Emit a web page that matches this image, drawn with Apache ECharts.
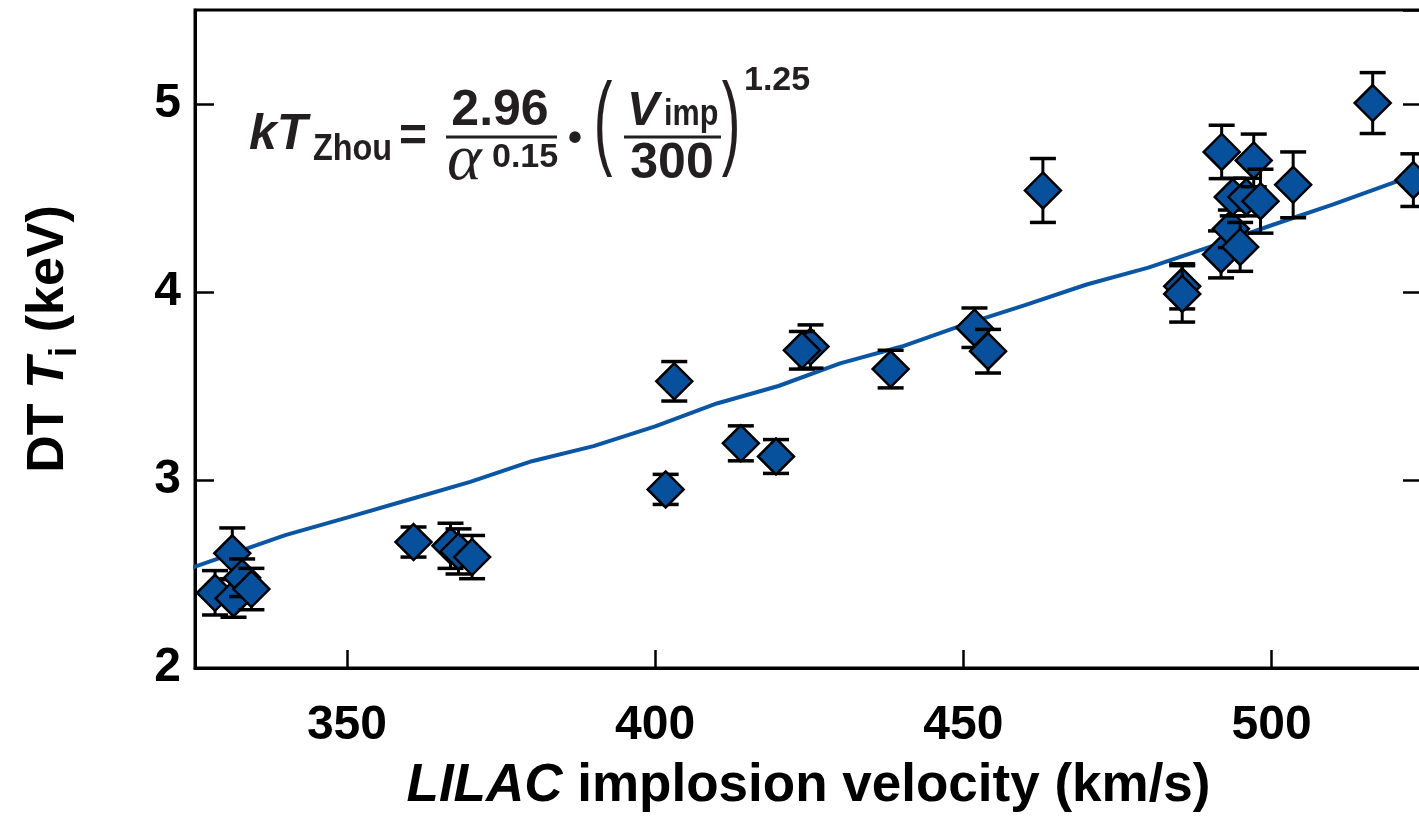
<!DOCTYPE html>
<html>
<head>
<meta charset="utf-8">
<script src="https://cdn.jsdelivr.net/npm/echarts@6/dist/echarts.min.js"></script>
<style>html,body{margin:0;padding:0;background:#fff}#c{width:1419px;height:827px}</style>
</head>
<body>
<div id="c"></div>
<script>
// Measured points: implosion velocity (km/s), DT Ti (keV), error half-width (keV)
const pointV   = [328.6, 331.4, 331.6, 333.0, 334.5, 360.8, 366.8, 368.1, 370.3, 401.7, 403.1, 413.9, 419.6, 425.2, 423.8, 438.2, 451.8, 454.0, 462.9, 485.5, 485.5, 491.8, 493.4, 494.9, 491.9, 493.7, 495.9, 497.1, 498.2, 503.5, 516.4, 523.0];
const pointT   = [2.40, 2.61, 2.37, 2.48, 2.42, 2.67, 2.65, 2.62, 2.59, 2.95, 3.525, 3.195, 3.125, 3.71, 3.69, 3.59, 3.81, 3.685, 4.54, 4.03, 3.99, 4.20, 4.336, 4.24, 4.745, 4.505, 4.505, 4.70, 4.483, 4.57, 5.005, 4.595];
const pointErr = [0.118, 0.135, 0.10, 0.10, 0.11, 0.08, 0.12, 0.12, 0.115, 0.08, 0.105, 0.093, 0.09, 0.115, 0.10, 0.10, 0.105, 0.116, 0.17, 0.12, 0.15, 0.125, 0.10, 0.13, 0.142, 0.10, 0.10, 0.14, 0.17, 0.175, 0.162, 0.14];

// Model curve kT_Zhou
const lineV = [325, 340, 350, 360, 370, 380, 390, 400, 410, 420, 430, 440, 450, 460, 470, 480, 490, 500, 510, 520, 525];
const lineT = [2.535, 2.707, 2.80, 2.895, 2.99, 3.10, 3.18, 3.285, 3.407, 3.50, 3.62, 3.71, 3.825, 3.93, 4.04, 4.13, 4.24, 4.355, 4.466, 4.585, 4.64];

// Axis ticks
const xTicks = [350, 400, 450, 500];
const yMin = 2, yMax = 5.5, yStep = 1;

const chart = echarts.init(document.getElementById('c'));
const FONT = '"Liberation Sans", Arial, Helvetica, sans-serif';
const ink = '#000';
const eqInk = '#231f20';

const pointData = pointV.map((v, i) => [v, pointT[i], pointErr[i]]);
const lineData = lineV.map((v, i) => [v, lineT[i]]);

function renderPoint(params, api) {
  const x = api.value(0), y = api.value(1), e = api.value(2);
  const c = api.coord([x, y]);
  const t = api.coord([x, y + e]);
  const b = api.coord([x, y - e]);
  const cw = 13, s = 18;
  return {
    type: 'group',
    children: [
      { type: 'line', shape: { x1: c[0], y1: t[1], x2: c[0], y2: b[1] }, style: { stroke: ink, lineWidth: 3 } },
      { type: 'line', shape: { x1: c[0] - cw, y1: t[1], x2: c[0] + cw, y2: t[1] }, style: { stroke: ink, lineWidth: 3.5 } },
      { type: 'line', shape: { x1: c[0] - cw, y1: b[1], x2: c[0] + cw, y2: b[1] }, style: { stroke: ink, lineWidth: 3.5 } },
      { type: 'polygon', shape: { points: [[c[0], c[1] - s], [c[0] + s, c[1]], [c[0], c[1] + s], [c[0] - s, c[1]]] },
        style: { fill: '#07509c', stroke: ink, lineWidth: 2.5 } }
    ]
  };
}

// equation text pieces (vertically centred on y)
const txt = (text, x, y, font, align, extra) => Object.assign({
  type: 'text', x: x, y: y, z: 100,
  style: { text: text, font: font, fill: eqInk, align: align || 'left', verticalAlign: 'middle' }
}, extra || {});

chart.setOption({
  animation: false,
  backgroundColor: '#fff',
  grid: { left: 195, right: -3, top: 10, bottom: 159, show: true, borderColor: ink, borderWidth: 3,
          backgroundColor: 'transparent', outerBoundsMode: 'none', containLabel: false },
  xAxis: {
    type: 'value', min: 325.35, max: 524.4,
    splitLine: { show: false },
    axisLine: { show: true, lineStyle: { color: ink, width: 3 } },
    axisTick: { show: true, inside: true, length: 18, customValues: xTicks, lineStyle: { color: ink, width: 2.5 } },
    axisLabel: { customValues: xTicks, color: ink, fontFamily: FONT, fontWeight: 'bold', fontSize: 48, margin: 34 },
    name: '{it|LILAC}{n| implosion velocity (km/s)}',
    nameLocation: 'middle', nameGap: 92,
    nameTextStyle: {
      rich: {
        it: { fontFamily: FONT, fontWeight: 'bold', fontStyle: 'italic', fontSize: 53, color: ink },
        n: { fontFamily: FONT, fontWeight: 'bold', fontSize: 53, color: ink }
      }
    }
  },
  yAxis: [{
    type: 'value', min: yMin, max: yMax, interval: yStep,
    splitLine: { show: false },
    axisLine: { show: true, lineStyle: { color: ink, width: 3 } },
    axisTick: { show: true, inside: true, length: 19, lineStyle: { color: ink, width: 2.5 } },
    axisLabel: { color: ink, fontFamily: FONT, fontWeight: 'bold', fontSize: 48, margin: 14, showMaxLabel: false },
    name: '{n|DT }{it|T}{sub|i}{n| (keV)}',
    nameLocation: 'middle', nameGap: 110,
    nameTextStyle: {
      rich: {
        n: { fontFamily: FONT, fontWeight: 'bold', fontSize: 52, color: ink, lineHeight: 62, verticalAlign: 'bottom', padding: [0, 0, 10, 0] },
        it: { fontFamily: FONT, fontWeight: 'bold', fontStyle: 'italic', fontSize: 52, color: ink, lineHeight: 62, verticalAlign: 'bottom', padding: [0, 0, 10, 0] },
        sub: { fontFamily: FONT, fontWeight: 'bold', fontSize: 38, color: ink, lineHeight: 62, verticalAlign: 'bottom' }
      }
    }
  }, {
    type: 'value', min: yMin, max: yMax, interval: yStep, position: 'right',
    splitLine: { show: false },
    axisLine: { show: true, lineStyle: { color: ink, width: 3 } },
    axisTick: { show: true, inside: true, length: 19, lineStyle: { color: ink, width: 2.5 } },
    axisLabel: { show: false }
  }],
  series: [{
    type: 'line', data: lineData, showSymbol: false, symbol: 'none', clip: true, z: 2,
    lineStyle: { color: '#0b56a4', width: 4 }
  }, {
    type: 'custom', data: pointData, renderItem: renderPoint, z: 5, clip: false,
    encode: { x: 0, y: 1 }
  }],
  graphic: [
    txt('kT', 249, 135, 'italic bold 50px ' + FONT),
    txt('Zhou', 313, 150, 'bold 36px ' + FONT, 'left', { scaleX: 0.9 }),
    txt('=', 413, 138, 'bold 48px ' + FONT, 'center'),
    txt('2.96', 500, 111, 'bold 50px ' + FONT, 'center'),
    { type: 'line', z: 100, shape: { x1: 446, y1: 137, x2: 557, y2: 137 }, style: { stroke: eqInk, lineWidth: 3 } },
    txt('\u03B1', 447, 162, 'italic 66px "Liberation Serif", "Times New Roman", serif'),
    txt('0.15', 492, 158, 'bold 34px ' + FONT),
    txt('\u2022', 575, 140, 'bold 40px ' + FONT, 'center'),
    txt('(', 603, 126, '56px ' + FONT, 'center', { scaleY: 1.85 }),
    txt('V', 627, 112, 'italic bold 48px ' + FONT),
    txt('imp', 664, 115, 'bold 36px ' + FONT, 'left', { scaleX: 0.85 }),
    { type: 'line', z: 100, shape: { x1: 624, y1: 137, x2: 721, y2: 137 }, style: { stroke: eqInk, lineWidth: 3 } },
    txt('300', 672, 164, 'bold 50px ' + FONT, 'center'),
    txt(')', 731, 126, '56px ' + FONT, 'center', { scaleY: 1.85 }),
    txt('1.25', 744, 81, 'bold 34px ' + FONT)
  ]
});
</script>
</body>
</html>
